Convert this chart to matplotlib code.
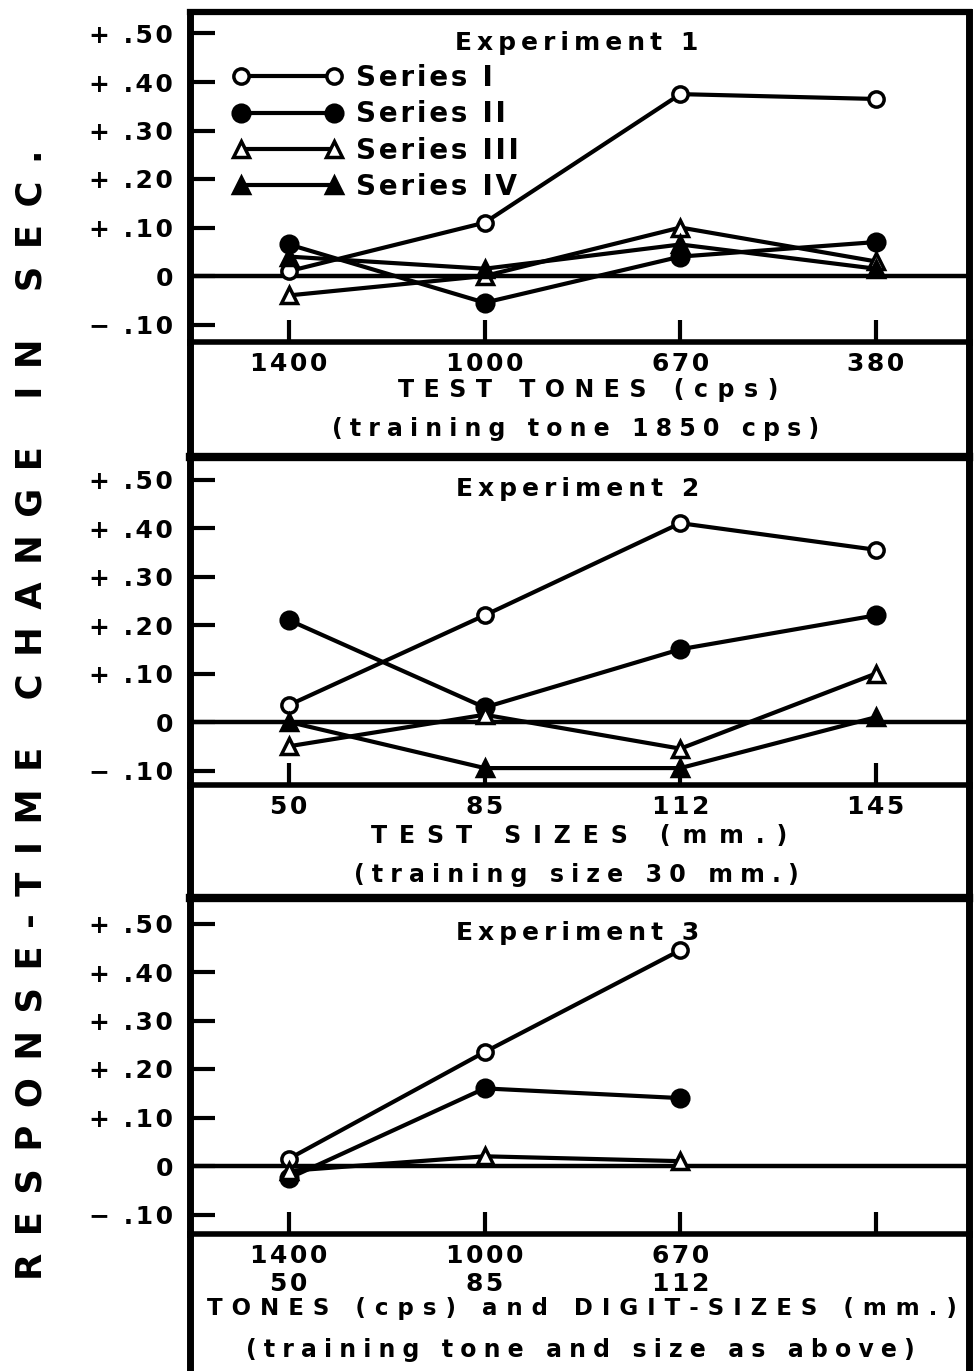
import matplotlib
matplotlib.use('Agg')
import matplotlib.pyplot as plt
import matplotlib.transforms as mtransforms
from matplotlib.lines import Line2D
from matplotlib.legend_handler import HandlerLine2D

plt.rcParams['font.family'] = ['DejaVu Sans']
plt.rcParams['font.weight'] = 'bold'

# values
exp1_x_labels = ['1400', '1000', '670', '380']
exp2_x_labels = ['50', '85', '112', '145']
exp3_x_labels = ['1400\n50', '1000\n85', '670\n112', '']

series_labels = ['Series I', 'Series II', 'Series III', 'Series IV']

exp1_s1 = [0.01, 0.11, 0.375, 0.365]
exp1_s2 = [0.065, -0.055, 0.04, 0.07]
exp1_s3 = [-0.04, 0.0, 0.10, 0.03]
exp1_s4 = [0.04, 0.015, 0.065, 0.015]

exp2_s1 = [0.035, 0.22, 0.41, 0.355]
exp2_s2 = [0.21, 0.03, 0.15, 0.22]
exp2_s3 = [-0.05, 0.015, -0.055, 0.10]
exp2_s4 = [0.0, -0.095, -0.095, 0.01]

exp3_s1 = [0.015, 0.235, 0.445]
exp3_s2 = [-0.025, 0.16, 0.14]
exp3_s3 = [-0.01, 0.02, 0.01]

y_values = [-0.10, 0.0, 0.10, 0.20, 0.30, 0.40, 0.50]
y_labels = ['\u2212 .10', '0', '+ .10', '+ .20', '+ .30', '+ .40', '+ .50']

exp_titles = ['Experiment 1', 'Experiment 2', 'Experiment 3']
xlabel_lines = [
    ['TEST TONES (cps)', '(training tone 1850 cps)'],
    ['TEST SIZES (mm.)', '(training size 30 mm.)'],
    ['TONES (cps) and DIGIT-SIZES (mm.)', '(training tone and size as above)'],
]
y_title = 'RESPONSE-TIME CHANGE IN SEC.'

HAIR = '\u200a'


def spaced(text, n):
    # the original lettering is spread out, imitate with hair spaces
    return '\n'.join((HAIR * n).join(line) for line in text.split('\n'))


styles = [
    dict(marker='o', markerfacecolor='white', markersize=11),
    dict(marker='o', markerfacecolor='black', markersize=12),
    dict(marker='^', markerfacecolor='white', markersize=11),
    dict(marker='^', markerfacecolor='black', markersize=12),
]

W, H = 980, 1371
fig = plt.figure(figsize=(W / 100, H / 100), dpi=100)


def rect(top, bottom, left=190, right=969):
    return [left / W, 1 - bottom / H, (right - left) / W, (bottom - top) / H]


PX_PER_UNIT = 485.0
panels = [
    dict(top=12, bottom=342, zero=276, next_top=457,
         ticks=exp1_x_labels, data=[exp1_s1, exp1_s2, exp1_s3, exp1_s4],
         lab_y=[390, 429], lab_x=[588, 576], lab_sp=[4, 3], lab_fs=[17, 17]),
    dict(top=457, bottom=785, zero=722, next_top=898,
         ticks=exp2_x_labels, data=[exp2_s1, exp2_s2, exp2_s3, exp2_s4],
         lab_y=[836, 875], lab_x=[579, 576], lab_sp=[5, 3], lab_fs=[17, 17]),
    dict(top=898, bottom=1234, zero=1166, next_top=H + 20,
         ticks=exp3_x_labels, data=[exp3_s1, exp3_s2, exp3_s3],
         lab_y=[1309, 1350], lab_x=[582, 580], lab_sp=[4, 3], lab_fs=[16.5, 17]),
]

for i, p in enumerate(panels):
    ax = fig.add_axes(rect(p['top'], p['bottom']))
    ax.set_xlim(-0.506, 3.475)
    ax.set_ylim(-(p['bottom'] - p['zero']) / PX_PER_UNIT,
                (p['zero'] - p['top']) / PX_PER_UNIT)
    ax.axhline(0, color='black', lw=3.2, zorder=1)

    for vals, st in zip(p['data'], styles):
        ax.plot(range(len(vals)), vals, color='black', lw=3,
                markeredgecolor='black', markeredgewidth=2.5,
                zorder=3, clip_on=False, **st)

    ax.set_yticks(y_values)
    ax.set_yticklabels([spaced(s, 1) for s in y_labels], fontsize=18)
    ax.tick_params(axis='y', direction='in', length=18, width=3, pad=12)
    ax.set_xticks(range(4))
    ax.set_xticklabels([spaced(s, 1) for s in p['ticks']], fontsize=18,
                       linespacing=1.25)
    ax.tick_params(axis='x', direction='in', length=16, width=3, pad=7)

    for side, lw in [('left', 5), ('right', 5), ('top', 6 if i else 4.5), ('bottom', 4)]:
        ax.spines[side].set_linewidth(lw)

    trans = mtransforms.blended_transform_factory(ax.transAxes, ax.transData)
    ax.text(0.497, 0.48, spaced(exp_titles[i], 2), transform=trans,
            ha='center', va='center', fontsize=18)

    if i == 0:
        handles = [Line2D([0], [0], color='black', lw=3, markeredgecolor='black',
                          markeredgewidth=2.5, **st) for st in styles]
        ax.legend(handles, [spaced(s, 1) for s in series_labels],
                  loc='upper left', bbox_to_anchor=(0.065, 0.842),
                  frameon=False, fontsize=20, handlelength=3.35,
                  handletextpad=0.8, labelspacing=0.3, borderpad=0,
                  borderaxespad=0,
                  handler_map={Line2D: HandlerLine2D(marker_pad=0, numpoints=2)})

    # area under each plot holding the axis titles
    lab = fig.add_axes(rect(p['bottom'], p['next_top']))
    lab.set_facecolor('none')
    lab.set_xticks([])
    lab.set_yticks([])
    lab.spines['top'].set_visible(False)
    lab.spines['bottom'].set_visible(False)
    lab.spines['left'].set_linewidth(5)
    lab.spines['right'].set_linewidth(5)

    for line, cx, cy, n, fs in zip(xlabel_lines[i], p['lab_x'], p['lab_y'],
                                   p['lab_sp'], p['lab_fs']):
        fig.text(cx / W, 1 - cy / H, spaced(line, n), ha='center', va='center',
                 fontsize=fs)

fig.text(32 / W, 1 - 715 / H, spaced(y_title, 5), rotation=90,
         ha='center', va='center', fontsize=25.5)

fig.savefig('out.png', dpi=100)
